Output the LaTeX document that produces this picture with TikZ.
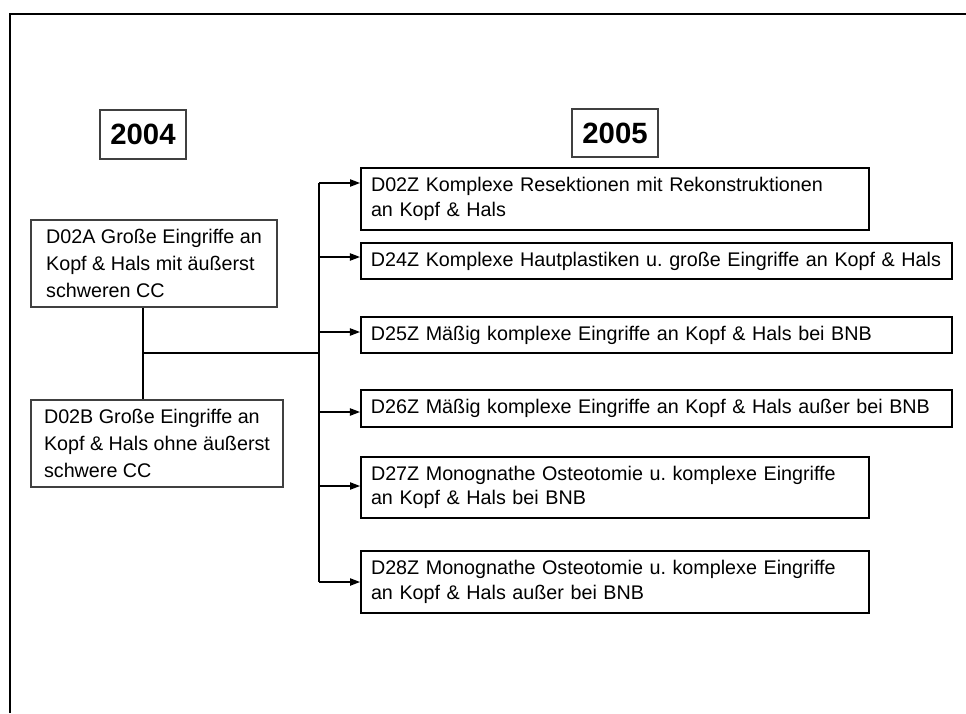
\documentclass[tikz,border=0pt]{standalone}
\usepackage{fontspec}
\setmainfont{Liberation Sans}
\usetikzlibrary{arrows.meta}
\frenchspacing

\begin{document}
\begin{tikzpicture}[
		x=0.75pt, y=-0.75pt,
		yearbox/.style={draw=black!75, line width=0.9pt, font=\bfseries\fontsize{22}{26}\selectfont, inner sep=0pt},
		oldbox/.style={draw=black!75, line width=0.9pt, align=left, inner xsep=7.5pt, inner ysep=0pt, font=\fontsize{14.8}{20}\selectfont},
		newbox/.style={draw, line width=1.5pt, align=left, inner xsep=7.5pt, inner ysep=0pt, font=\fontsize{14.8}{18.5}\selectfont},
		conn/.style={line width=0.9pt},
		arr/.style={conn, -{Triangle[length=7.5pt,width=5.5pt]}}
		]
		\useasboundingbox (0,0) rectangle (966,713);
		\draw[line width=1.9pt] (10,713) -- (10,14) -- (966,14);
		
		\node[yearbox, minimum width=64.5pt, minimum height=36.75pt](Y04) at (143,134.5){2004};
		\node[yearbox, minimum width=64.5pt, minimum height=36pt](Y05) at (615,133){2005};
		
		\node[oldbox, minimum width=184.5pt, minimum height=65.25pt](D02A) at (154,263.5)
		{D02A Große Eingriffe an\\Kopf \& Hals mit äußerst\\schweren CC};
		\node[oldbox, minimum width=189pt, minimum height=65.25pt](D02B) at (157,443.5)
		{D02B Große Eingriffe an\\Kopf \& Hals ohne äußerst\\schwere CC};
		
		\node[newbox, text width=366pt, minimum height=46.5pt](D02Z) at (615,199)
		{D02Z Komplexe Resektionen mit Rekonstruktionen\\an Kopf \& Hals};
		\node[newbox, text width=428pt, minimum height=27pt](D24Z) at (656.3,261)
		{\mbox{D24Z Komplexe Hautplastiken u. große Eingriffe an Kopf \& Hals}};
		\node[newbox, text width=428pt, minimum height=27pt](D25Z) at (656.3,335)
		{\mbox{D25Z Mäßig komplexe Eingriffe an Kopf \& Hals bei BNB}};
		\node[newbox, text width=428pt, minimum height=27.75pt](D26Z) at (656.3,408.5)
		{\mbox{D26Z Mäßig komplexe Eingriffe an Kopf \& Hals außer bei BNB}};
		\node[newbox, text width=366pt, minimum height=45.75pt](D27Z) at (615,487.5)
		{D27Z Monognathe Osteotomie u. komplexe Eingriffe\\an Kopf \& Hals bei BNB};
		\node[newbox, text width=366pt, minimum height=46.5pt](D28Z) at (615,582)
		{D28Z Monognathe Osteotomie u. komplexe Eingriffe\\an Kopf \& Hals außer bei BNB};
		
		\coordinate (J) at (143,353);
		\coordinate (T) at (319,353);
		\coordinate (T1) at (319,183);
		\coordinate (T2) at (319,257);
		\coordinate (T3) at (319,332);
		\coordinate (T4) at (319,412);
		\coordinate (T5) at (319,486);
		\coordinate (T6) at (319,582);
		
		\draw[conn] (D02A.south -| J) -- (D02B.north -| J);
		\draw[conn] (J) -- (T);
		\draw[conn] (T1) -- (T6);
		\draw[arr] (T1) -- (T1 -| D02Z.west);
		\draw[arr] (T2) -- (T2 -| D24Z.west);
		\draw[arr] (T3) -- (T3 -| D25Z.west);
		\draw[arr] (T4) -- (T4 -| D26Z.west);
		\draw[arr] (T5) -- (T5 -| D27Z.west);
		\draw[arr] (T6) -- (T6 -| D28Z.west);
	\end{tikzpicture}
\end{document}
